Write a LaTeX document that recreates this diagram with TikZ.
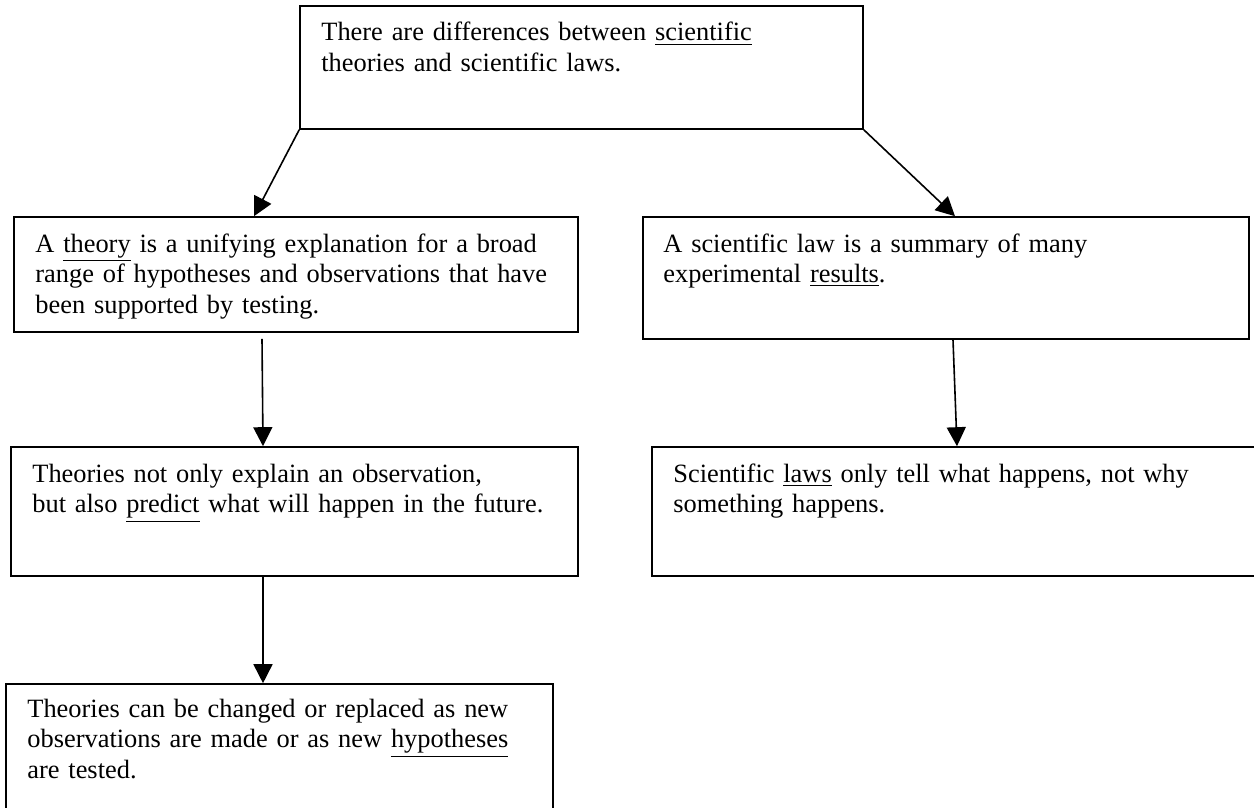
\documentclass[tikz,border=0pt]{standalone}
\usepackage{fontspec}
\setmainfont{Liberation Serif}
\usepackage{tikz}
\usetikzlibrary{arrows.meta}
\usetikzlibrary{fit}
\tikzset{card/.style={draw, rectangle, inner sep=0, line width=0.8pt}}
\tikzset{note/.style={anchor=base west, inner sep=0, align=left, text width=320pt,
  font=\fontsize{13.2}{15.4}\selectfont}}
\tikzset{every edge/.style={draw, line width=0.8pt, -{Triangle[length=9.5pt, width=9.5pt]}}}

\begin{document}
\begin{tikzpicture}[x=0.5pt, y=-0.5pt]
  \useasboundingbox (0, 0) rectangle (1254, 808);

  \node[card, fit={(300, 6) (863, 129)}] (diff) {};
  \node[note] at (321, 41) (diff text) {There are differences between \underline{scientific}\\
    theories and scientific laws.};

  \node[card, fit={(14, 217) (578, 332)}] (theory) {};
  \node[note] at (35, 252) (theory text) {A \underline{theory} is a unifying explanation for a broad\\
    range of hypotheses and observations that have\\
    been supported by testing.};

  \node[card, fit={(643, 217) (1249, 339)}] (law) {};
  \node[note] at (663, 252) (law text) {A scientific law is a summary of many\\
    experimental \underline{results}.};

  \node[card, fit={(11, 447) (578, 576)}] (predict) {};
  \node[note] at (32, 482) (predict text) {Theories not only explain an observation,\\
    but also \underline{predict} what will happen in the future.};

  \node[card, fit={(652, 447) (1270, 576)}] (why) {};
  \node[note] at (673, 482) (why text) {Scientific \underline{laws} only tell what happens, not why\\
    something happens.};

  \node[card, fit={(6, 684) (553, 830)}] (change) {};
  \node[note] at (27, 717) (change text) {Theories can be changed or replaced as new\\
    observations are made or as new \underline{hypotheses}\\
    are tested.};

  % arrow ends on the boxes
  \coordinate (theory in) at (theory.north -| 254, 0);
  \coordinate (law in) at (law.north -| 955, 0);
  \coordinate (theory out) at ([yshift=-3pt] theory.south -| 262, 0);
  \coordinate (predict in) at (predict.north -| 263, 0);
  \coordinate (law out) at (law.south -| 953, 0);
  \coordinate (why in) at (why.north -| 957, 0);
  \coordinate (predict out) at (predict.south -| 263, 0);
  \coordinate (change in) at (change.north -| 263, 0);

  \draw (diff.south west) edge (theory in);
  \draw (diff.south east) edge (law in);
  \draw (theory out) edge (predict in);
  \draw (law out) edge (why in);
  \draw (predict out) edge (change in);
\end{tikzpicture}
\end{document}
